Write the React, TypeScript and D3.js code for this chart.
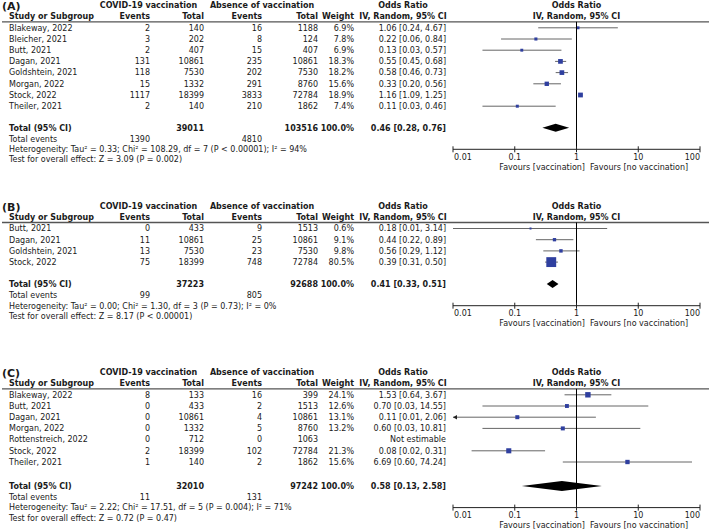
import React from "react";
import * as d3 from "d3";

// ---------- Panel A ----------
const studiesA = ["Blakeway, 2022", "Bleicher, 2021", "Butt, 2021", "Dagan, 2021", "Goldshtein, 2021", "Morgan, 2022", "Stock, 2022", "Theiler, 2021"];
const vacEventsA = [2, 3, 2, 131, 118, 15, 1117, 2];
const vacTotalA = [140, 202, 407, 10861, 7530, 1332, 18399, 140];
const ctrlEventsA = [16, 8, 15, 235, 202, 291, 3833, 210];
const ctrlTotalA = [1188, 124, 407, 10861, 7530, 8760, 72784, 1862];
const weightA = [6.9, 7.8, 6.9, 18.3, 18.2, 15.6, 18.9, 7.4];
const orA = [1.06, 0.22, 0.13, 0.55, 0.58, 0.33, 1.16, 0.11];
const loA = [0.24, 0.06, 0.03, 0.45, 0.46, 0.2, 1.09, 0.03];
const hiA = [4.67, 0.84, 0.57, 0.68, 0.73, 0.56, 1.25, 0.46];
const arrowA = [false, false, false, false, false, false, false, false];
const totalsA = { vacTotal: 39011, ctrlTotal: 103516, vacEvents: 1390, ctrlEvents: 4810, or: 0.46, lo: 0.28, hi: 0.76 };
const hetA = "Heterogeneity: Tau² = 0.33; Chi² = 108.29, df = 7 (P < 0.00001); I² = 94%";
const testA = "Test for overall effect: Z = 3.09 (P = 0.002)";

// ---------- Panel B ----------
const studiesB = ["Butt, 2021", "Dagan, 2021", "Goldshtein, 2021", "Stock, 2022"];
const vacEventsB = [0, 11, 13, 75];
const vacTotalB = [433, 10861, 7530, 18399];
const ctrlEventsB = [9, 25, 23, 748];
const ctrlTotalB = [1513, 10861, 7530, 72784];
const weightB = [0.6, 9.1, 9.8, 80.5];
const orB = [0.18, 0.44, 0.56, 0.39];
const loB = [0.01, 0.22, 0.29, 0.31];
const hiB = [3.14, 0.89, 1.12, 0.5];
const arrowB = [false, false, false, false];
const totalsB = { vacTotal: 37223, ctrlTotal: 92688, vacEvents: 99, ctrlEvents: 805, or: 0.41, lo: 0.33, hi: 0.51 };
const hetB = "Heterogeneity: Tau² = 0.00; Chi² = 1.30, df = 3 (P = 0.73); I² = 0%";
const testB = "Test for overall effect: Z = 8.17 (P < 0.00001)";

// ---------- Panel C ----------
const studiesC = ["Blakeway, 2022", "Butt, 2021", "Dagan, 2021", "Morgan, 2022", "Rottenstreich, 2022", "Stock, 2022", "Theiler, 2021"];
const vacEventsC = [8, 0, 0, 0, 0, 2, 1];
const vacTotalC = [133, 433, 10861, 1332, 712, 18399, 140];
const ctrlEventsC = [16, 2, 4, 5, 0, 102, 2];
const ctrlTotalC = [399, 1513, 10861, 8760, 1063, 72784, 1862];
const weightC = [24.1, 12.6, 13.1, 13.2, null, 21.3, 15.6];
const orC = [1.53, 0.7, 0.11, 0.6, null, 0.08, 6.69];
const loC = [0.64, 0.03, 0.01, 0.03, null, 0.02, 0.6];
const hiC = [3.67, 14.55, 2.06, 10.81, null, 0.31, 74.24];
const arrowC = [false, false, true, false, false, false, false];
const totalsC = { vacTotal: 32010, ctrlTotal: 97242, vacEvents: 11, ctrlEvents: 131, or: 0.58, lo: 0.13, hi: 2.58 };
const hetC = "Heterogeneity: Tau² = 2.22; Chi² = 17.51, df = 5 (P = 0.004); I² = 71%";
const testC = "Test for overall effect: Z = 0.72 (P = 0.47)";

const axisTicks = [0.01, 0.1, 1, 10, 100];
const axisTickLabels = ["0.01", "0.1", "1", "10", "100"];

const FONT = "'DejaVu Sans', sans-serif";
const FS = 8;
const TXT = "#1a1a1a";
const BOX = "#2f3f9f";
const CI = "#666666";

const x = d3.scaleLog().domain([0.01, 100]).range([453, 700]);
const boxSize = d3.scaleSqrt().domain([0, 100]).range([0, 11]);

const COL = { name: 9, vEv: 150, vTot: 204, cEv: 262, cTot: 318, w: 354, or: 446, orHead: 403 };

type PanelProps = {
  label: string;
  row1: number;
  step: number;
  totalGap: number;
  diamondH: number;
  studies: string[];
  vacEvents: number[];
  vacTotal: number[];
  ctrlEvents: number[];
  ctrlTotal: number[];
  weight: (number | null)[];
  or: (number | null)[];
  lo: (number | null)[];
  hi: (number | null)[];
  arrow: boolean[];
  totals: { vacTotal: number; ctrlTotal: number; vacEvents: number; ctrlEvents: number; or: number; lo: number; hi: number };
  het: string;
  test: string;
};

const T = (props: any) => (
  <text fontFamily={FONT} fontSize={FS} fill={TXT} dy="0.35em" {...props} />
);

function Panel(p: PanelProps) {
  const rowY = (i: number) => p.row1 + i * p.step;
  const lastY = rowY(p.studies.length - 1);
  const totalY = lastY + p.totalGap;
  const eventsY = totalY + 11.3;
  const hetY = totalY + 21.6;
  const testY = totalY + 31.8;
  const axisY = hetY;
  const lineY = p.row1 - 6;
  const h1 = p.row1 - 22.5;
  const h2 = p.row1 - 11.2;
  const fmt = (v: number) => v.toFixed(2);
  return (
    <g>
      <text x={2} y={h1 + 1.2} dy="0.35em" fontFamily={FONT} fontSize={11} fontWeight="bold" fill={TXT}>{p.label}</text>
      <T x={148.5} y={h1} textAnchor="middle" fontWeight="bold">COVID-19 vaccination</T>
      <T x={262} y={h1} textAnchor="middle" fontWeight="bold">Absence of vaccination</T>
      <T x={COL.orHead} y={h1} textAnchor="middle" fontWeight="bold">Odds Ratio</T>
      <T x={x(1)} y={h1} textAnchor="middle" fontWeight="bold">Odds Ratio</T>
      <T x={COL.name} y={h2} fontWeight="bold">Study or Subgroup</T>
      <T x={COL.vEv} y={h2} textAnchor="end" fontWeight="bold">Events</T>
      <T x={COL.vTot} y={h2} textAnchor="end" fontWeight="bold">Total</T>
      <T x={COL.cEv} y={h2} textAnchor="end" fontWeight="bold">Events</T>
      <T x={COL.cTot} y={h2} textAnchor="end" fontWeight="bold">Total</T>
      <T x={COL.w} y={h2} textAnchor="end" fontWeight="bold">Weight</T>
      <T x={COL.orHead} y={h2} textAnchor="middle" fontWeight="bold">IV, Random, 95% CI</T>
      <T x={x(1)} y={h2} textAnchor="middle" fontWeight="bold">IV, Random, 95% CI</T>
      <line x1={2} x2={709} y1={lineY} y2={lineY} stroke="#555" strokeWidth={1.3} />

      {p.studies.map((s, i) => {
        const y = rowY(i);
        const w = p.weight[i];
        const o = p.or[i];
        const lo = p.lo[i];
        const hi = p.hi[i];
        const bs = w != null ? Math.max(2, boxSize(w)) : 0;
        return (
          <g key={s}>
            <T x={COL.name} y={y}>{s}</T>
            <T x={COL.vEv} y={y} textAnchor="end">{p.vacEvents[i]}</T>
            <T x={COL.vTot} y={y} textAnchor="end">{p.vacTotal[i]}</T>
            <T x={COL.cEv} y={y} textAnchor="end">{p.ctrlEvents[i]}</T>
            <T x={COL.cTot} y={y} textAnchor="end">{p.ctrlTotal[i]}</T>
            {w != null && <T x={COL.w} y={y} textAnchor="end">{w.toFixed(1)}%</T>}
            {o != null && lo != null && hi != null ? (
              <T x={COL.or} y={y} textAnchor="end">{`${fmt(o)} [${fmt(lo)}, ${fmt(hi)}]`}</T>
            ) : (
              <T x={COL.or} y={y} textAnchor="end">Not estimable</T>
            )}
            {o != null && lo != null && hi != null && (
              <g>
                <line x1={x(lo)} x2={x(hi)} y1={y} y2={y} stroke={CI} strokeWidth={1} />
                {p.arrow[i] && (
                  <path d={`M${x(lo)},${y} l4,-2.3 l0,4.6 Z`} fill="#222" />
                )}
                <rect x={x(o) - bs / 2} y={y - bs / 2} width={bs} height={bs} fill={BOX} />
              </g>
            )}
          </g>
        );
      })}

      <T x={COL.name} y={totalY} fontWeight="bold">Total (95% CI)</T>
      <T x={COL.vTot} y={totalY} textAnchor="end" fontWeight="bold">{p.totals.vacTotal}</T>
      <T x={COL.cTot} y={totalY} textAnchor="end" fontWeight="bold">{p.totals.ctrlTotal}</T>
      <T x={COL.w} y={totalY} textAnchor="end" fontWeight="bold">100.0%</T>
      <T x={COL.or} y={totalY} textAnchor="end" fontWeight="bold">{`${fmt(p.totals.or)} [${fmt(p.totals.lo)}, ${fmt(p.totals.hi)}]`}</T>
      <path
        d={`M${x(p.totals.lo)},${totalY} L${x(p.totals.or)},${totalY - p.diamondH} L${x(p.totals.hi)},${totalY} L${x(p.totals.or)},${totalY + p.diamondH} Z`}
        fill="#000"
      />
      <T x={COL.name} y={eventsY}>Total events</T>
      <T x={COL.vEv} y={eventsY} textAnchor="end">{p.totals.vacEvents}</T>
      <T x={COL.cEv} y={eventsY} textAnchor="end">{p.totals.ctrlEvents}</T>
      <T x={COL.name} y={hetY}>{p.het}</T>
      <T x={COL.name} y={testY}>{p.test}</T>

      <line x1={x(1)} x2={x(1)} y1={lineY} y2={axisY} stroke="#000" strokeWidth={1} />
      <line x1={x(0.01)} x2={x(100)} y1={axisY} y2={axisY} stroke="#222" strokeWidth={1} />
      {axisTicks.map((t, i) => (
        <g key={t}>
          <line x1={x(t)} x2={x(t)} y1={axisY - 3} y2={axisY + 3} stroke="#222" strokeWidth={1} />
          <T
            x={i === 0 ? x(t) + 1 : x(t)}
            y={axisY + 7.5}
            textAnchor={i === 0 ? "start" : i === axisTicks.length - 1 ? "end" : "middle"}
          >
            {axisTickLabels[i]}
          </T>
        </g>
      ))}
      <T x={585} y={axisY + 17.5} textAnchor="end">Favours [vaccination]</T>
      <T x={590} y={axisY + 17.5}>Favours [no vaccination]</T>
    </g>
  );
}

export default function App() {
  return (
    <div style={{ position: "absolute", left: 0, top: 0 }}>
      <svg width={709} height={529} style={{ display: "block", background: "#fff" }}>
        <Panel label="(A)" row1={27.8} step={11.2} totalGap={21.5} diamondH={4}
          studies={studiesA} vacEvents={vacEventsA} vacTotal={vacTotalA} ctrlEvents={ctrlEventsA}
          ctrlTotal={ctrlTotalA} weight={weightA} or={orA} lo={loA} hi={hiA} arrow={arrowA}
          totals={totalsA} het={hetA} test={testA} />
        <Panel label="(B)" row1={228.5} step={11.2} totalGap={22} diamondH={4}
          studies={studiesB} vacEvents={vacEventsB} vacTotal={vacTotalB} ctrlEvents={ctrlEventsB}
          ctrlTotal={ctrlTotalB} weight={weightB} or={orB} lo={loB} hi={hiB} arrow={arrowB}
          totals={totalsB} het={hetB} test={testB} />
        <Panel label="(C)" row1={394.8} step={11.2} totalGap={24} diamondH={5}
          studies={studiesC} vacEvents={vacEventsC} vacTotal={vacTotalC} ctrlEvents={ctrlEventsC}
          ctrlTotal={ctrlTotalC} weight={weightC} or={orC} lo={loC} hi={hiC} arrow={arrowC}
          totals={totalsC} het={hetC} test={testC} />
      </svg>
    </div>
  );
}
